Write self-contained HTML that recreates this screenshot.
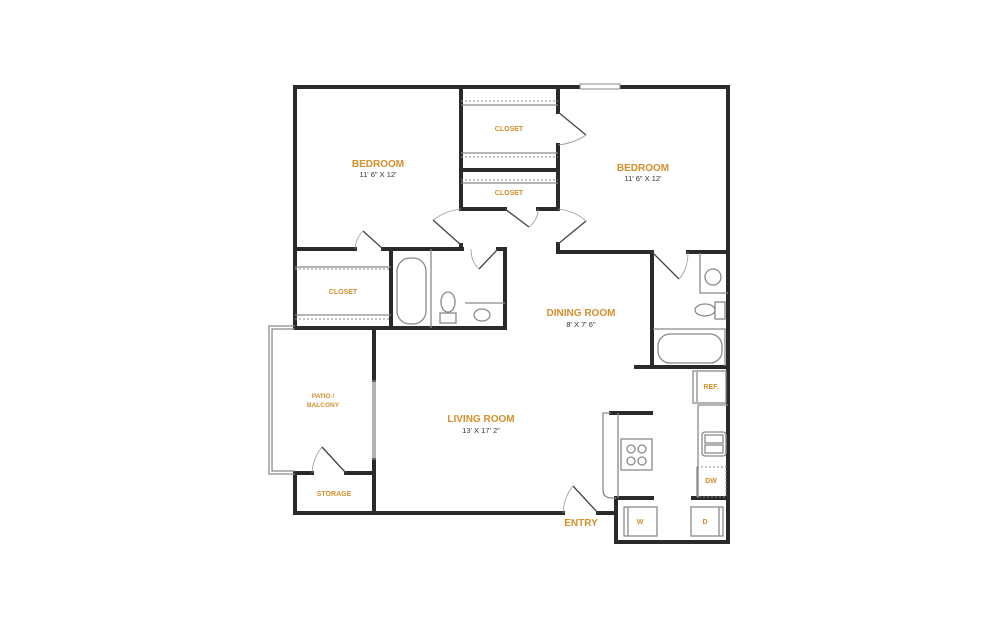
<!DOCTYPE html>
<html><head><meta charset="utf-8"><style>
html,body{margin:0;padding:0;background:#fff;}
svg{display:block}
.w{stroke:#2a2a2a;stroke-width:4;fill:none;stroke-linecap:square}
.g{stroke:#8a8a8a;stroke-width:1.3;fill:none}
.gd{stroke:#8a8a8a;stroke-width:1;fill:none;stroke-dasharray:2 2}
.d{stroke:#444;stroke-width:1.3;fill:none}
.a{stroke:#999;stroke-width:0.8;fill:none}
.t{font-family:"Liberation Sans",sans-serif;fill:#d58f2c;font-weight:bold;text-anchor:middle}
.s{font-family:"Liberation Sans",sans-serif;fill:#333;text-anchor:middle}
</style></head><body>
<svg width="998" height="626" viewBox="0 0 998 626" xmlns="http://www.w3.org/2000/svg">
<!-- outer walls -->
<path class="w" d="M295,249 V87 H728 V542 H616 V498"/>
<path class="w" d="M461,87 V209 M461,245 V249"/>
<path class="w" d="M461,209 H505 M538,209 H558"/>
<path class="w" d="M461,170 H558"/>
<path class="w" d="M558,87 V112 M558,145 V209 M558,244 V252 H652 M688,252 H728"/>
<path class="w" d="M295,249 H355 M383,249 H462 M498,249 H505 V328 H295 V249"/>
<path class="w" d="M391,249 V328"/>
<path class="w" d="M652,252 V367 M636,367 H728"/>
<path class="w" d="M374,328 V380 M374,460 V513"/>
<path class="w" d="M295,473 V513 H563 M598,513 H616"/>
<path class="w" d="M295,473 H312 M346,473 H374"/>
<path class="w" d="M611,413 H651"/>
<path class="w" d="M616,498 H652 M693,498 H728"/>
<!-- sliding door -->
<path class="g" d="M373,380 V460 M375,380 V460"/>
<!-- patio -->
<path class="g" d="M295,326 H269 V474 H295 M295,329 H272 V471 H295"/>
<!-- window -->
<rect x="580" y="84" width="40" height="5" fill="#fff" stroke="#888" stroke-width="1"/>
<!-- closet shelves -->
<path class="gd" d="M461,101 H558 M461,157 H558 M461,180 H558 M295,269 H391 M295,319 H391"/>
<path class="g" d="M461,105 H558 M461,153 H558 M461,183 H558 M295,267 H391 M295,315 H391"/>
<path class="g" d="M431,249 V328 M465,303 H505"/>
<!-- doors -->
<path class="d" d="M558,112 L586,135"/><path class="a" d="M586,135 Q575,143 558,145"/>
<path class="d" d="M505,209 L529,227"/><path class="a" d="M529,227 Q538,220 538,209"/>
<path class="d" d="M461,245 L433,220"/><path class="a" d="M433,220 Q445,211 461,209"/>
<path class="d" d="M558,244 L586,221"/><path class="a" d="M586,221 Q575,211 558,209"/>
<path class="d" d="M383,249 L363,231"/><path class="a" d="M363,231 Q356,238 355,249"/>
<path class="d" d="M498,249 L479,269"/><path class="a" d="M479,269 Q471,262 471,249"/>
<path class="d" d="M652,252 L679,279"/><path class="a" d="M679,279 Q688,269 688,252"/>
<path class="d" d="M346,473 L322,447"/><path class="a" d="M322,447 Q313,458 312,473"/>
<path class="d" d="M598,513 L573,486"/><path class="a" d="M573,486 Q564,497 563,513"/>
<!-- left bath fixtures -->
<rect class="g" x="397" y="258" width="29" height="66" rx="13"/>
<rect class="g" x="440" y="313" width="16" height="10"/>
<ellipse class="g" cx="448" cy="302" rx="7" ry="10"/>
<ellipse class="g" cx="482" cy="315" rx="8" ry="6"/>
<!-- right bath fixtures -->
<path class="g" d="M700,253 V293 H728"/>
<circle class="g" cx="713" cy="277" r="8"/>
<ellipse class="g" cx="705" cy="310" rx="10" ry="6"/>
<rect class="g" x="715" y="302" width="10" height="17"/>
<path class="g" d="M653,329 H725 V366"/>
<rect class="g" x="658" y="334" width="64" height="29" rx="12"/>
<!-- kitchen -->
<rect class="g" x="693" y="371" width="33" height="32"/>
<path class="g" d="M697,372 V402"/>
<path class="g" d="M728,405 H698 V498"/>
<rect class="g" x="702" y="432" width="24" height="24" rx="3"/>
<rect class="g" x="705" y="435" width="18" height="8"/><rect class="g" x="705" y="445" width="18" height="8"/>
<rect class="gd" x="697" y="467" width="29" height="30"/>
<path class="g" d="M697,467 V497"/>
<path class="g" d="M611,413 H603 V490 Q603,498 612,498 H616 M618,413 V498"/>
<rect class="g" x="621" y="439" width="31" height="31"/>
<circle class="g" cx="631" cy="449" r="4"/><circle class="g" cx="642" cy="449" r="4"/>
<circle class="g" cx="631" cy="461" r="4"/><circle class="g" cx="642" cy="461" r="4"/>
<!-- laundry -->
<rect class="g" x="624" y="507" width="33" height="29"/><path class="g" d="M628,507 V536"/>
<rect class="g" x="691" y="507" width="32" height="29"/><path class="g" d="M719,507 V536"/>
<!-- labels -->
<text class="t" x="378" y="167" font-size="10">BEDROOM</text>
<text class="s" x="378" y="177" font-size="7.5">11' 6" X 12'</text>
<text class="t" x="643" y="171" font-size="10">BEDROOM</text>
<text class="s" x="643" y="181" font-size="7.5">11' 6" X 12'</text>
<text class="t" x="509" y="131" font-size="7">CLOSET</text>
<text class="t" x="509" y="195" font-size="7">CLOSET</text>
<text class="t" x="343" y="294" font-size="7">CLOSET</text>
<text class="t" x="581" y="316" font-size="10">DINING ROOM</text>
<text class="s" x="581" y="327" font-size="7.5">8' X 7' 6"</text>
<text class="t" x="481" y="422" font-size="10">LIVING ROOM</text>
<text class="s" x="481" y="433" font-size="7.5">13' X 17' 2"</text>
<text class="t" x="323" y="398" font-size="6.5">PATIO /</text>
<text class="t" x="323" y="407" font-size="6.5">BALCONY</text>
<text class="t" x="334" y="496" font-size="7">STORAGE</text>
<text class="t" x="581" y="526" font-size="10">ENTRY</text>
<text class="t" x="711" y="389" font-size="7">REF.</text>
<text class="t" x="711" y="483" font-size="7">DW</text>
<text class="t" x="640" y="524" font-size="7">W</text>
<text class="t" x="705" y="524" font-size="7">D</text>
</svg>
</body></html>
